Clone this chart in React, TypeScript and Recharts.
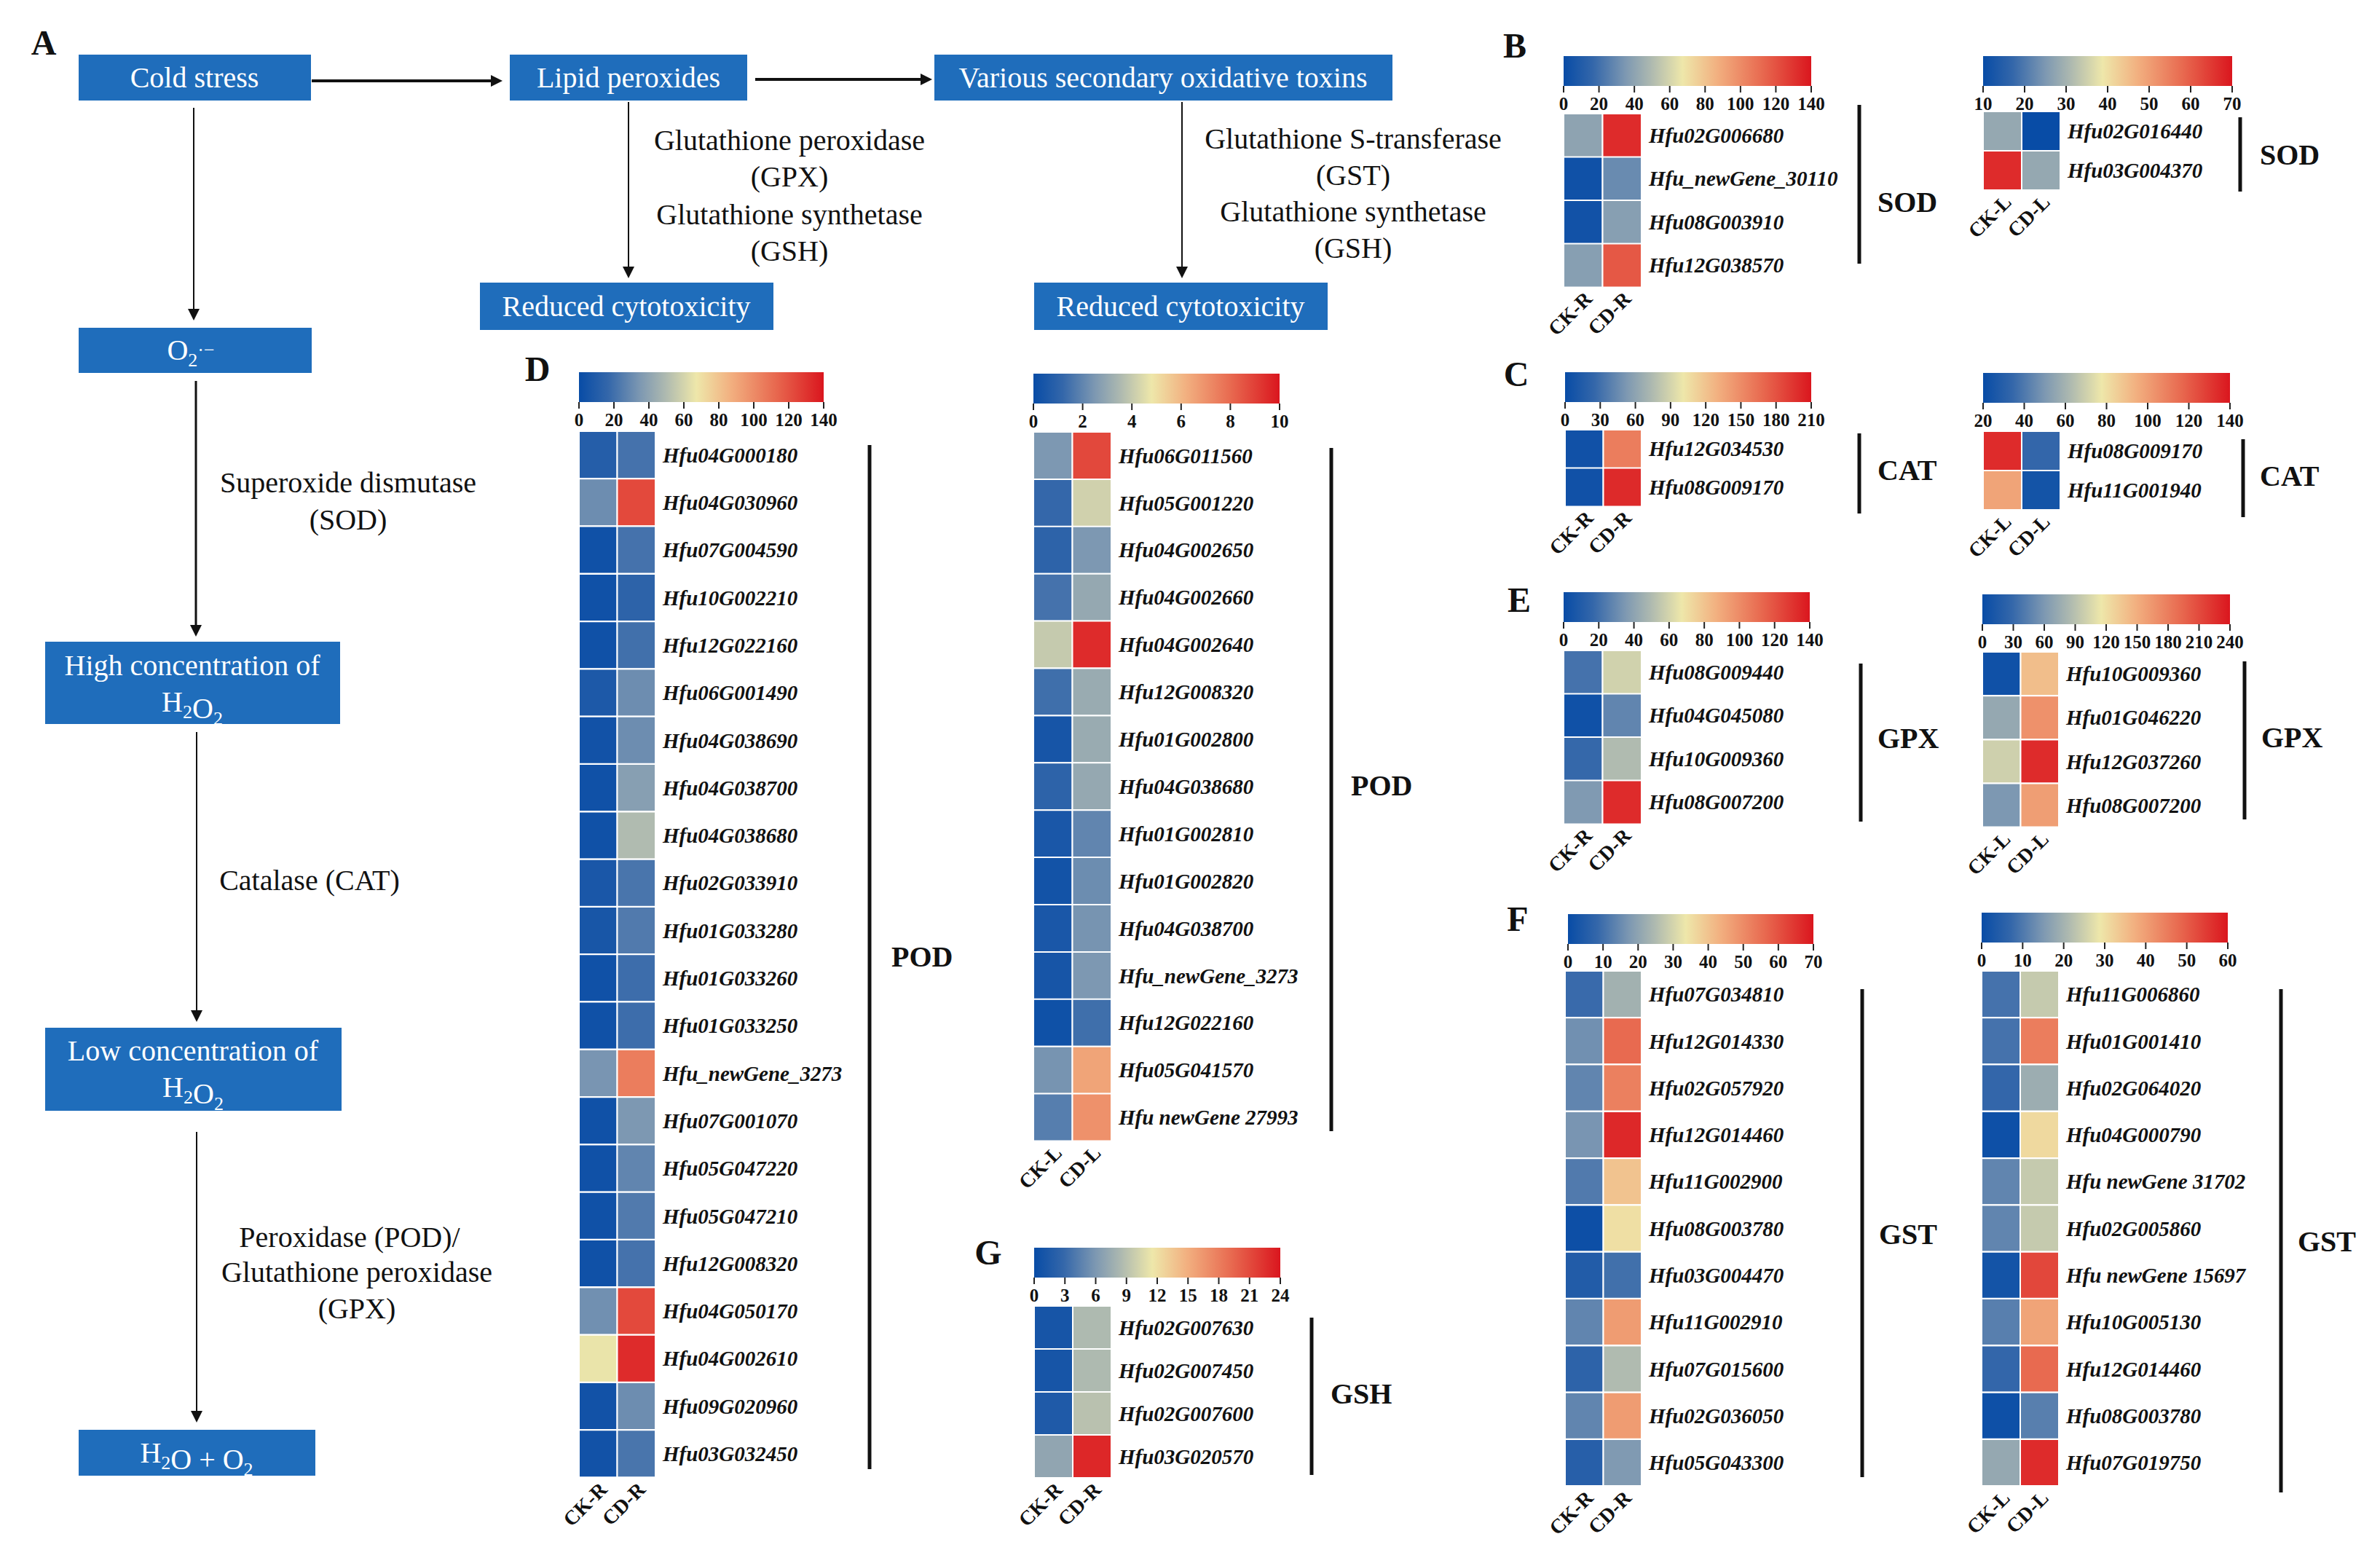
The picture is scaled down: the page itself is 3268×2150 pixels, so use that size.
import React from "react"
import { BarChart, Bar, XAxis, YAxis, Cell } from "recharts"

const SERIF = '"Liberation Serif", "Times New Roman", serif'
const BOX = "#1f6dbb"

const samplesRoot = ["CK-R", "CD-R"]
const samplesLeaf = ["CK-L", "CD-L"]

// B  SOD
const sodRootGenes = ["Hfu02G006680", "Hfu_newGene_30110", "Hfu08G003910", "Hfu12G038570"]
const sodRootCK = [40, 3, 4, 38]
const sodRootCD = [133, 30, 38, 118]
const sodRootTicks = [0, 20, 40, 60, 80, 100, 120, 140]
const sodLeafGenes = ["Hfu02G016440", "Hfu03G004370"]
const sodLeafCK = [28, 67]
const sodLeafCD = [10, 28]
const sodLeafTicks = [10, 20, 30, 40, 50, 60, 70]

// C  CAT
const catRootGenes = ["Hfu12G034530", "Hfu08G009170"]
const catRootCK = [5, 5]
const catRootCD = [158, 200]
const catRootTicks = [0, 30, 60, 90, 120, 150, 180, 210]
const catLeafGenes = ["Hfu08G009170", "Hfu11G001940"]
const catLeafCK = [134, 98]
const catLeafCD = [34, 24]
const catLeafTicks = [20, 40, 60, 80, 100, 120, 140]

// E  GPX
const gpxRootGenes = ["Hfu08G009440", "Hfu04G045080", "Hfu10G009360", "Hfu08G007200"]
const gpxRootCK = [21, 3, 17, 36]
const gpxRootCD = [59, 28, 50, 133]
const gpxRootTicks = [0, 20, 40, 60, 80, 100, 120, 140]
const gpxLeafGenes = ["Hfu10G009360", "Hfu01G046220", "Hfu12G037260", "Hfu08G007200"]
const gpxLeafCK = [5, 72, 100, 60]
const gpxLeafCD = [140, 168, 228, 160]
const gpxLeafTicks = [0, 30, 60, 90, 120, 150, 180, 210, 240]

// F  GST
const gstRootGenes = [
  "Hfu07G034810", "Hfu12G014330", "Hfu02G057920", "Hfu12G014460", "Hfu11G002900", "Hfu08G003780",
  "Hfu03G004470", "Hfu11G002910", "Hfu07G015600", "Hfu02G036050", "Hfu05G043300",
]
const gstRootCK = [9, 16, 14, 17, 12, 1, 5, 14, 7, 14, 6]
const gstRootCD = [23, 56, 52, 67, 40, 35, 10, 47, 25, 47, 18]
const gstRootTicks = [0, 10, 20, 30, 40, 50, 60, 70]
const gstLeafGenes = [
  "Hfu11G006860", "Hfu01G001410", "Hfu02G064020", "Hfu04G000790", "Hfu newGene 31702", "Hfu02G005860",
  "Hfu newGene 15697", "Hfu10G005130", "Hfu12G014460", "Hfu08G003780", "Hfu07G019750",
]
const gstLeafCK = [9, 9, 7, 1, 12, 12, 2, 11, 7, 1, 18]
const gstLeafCD = [24, 45, 19, 31, 24, 24, 53, 39, 48, 11, 57]
const gstLeafTicks = [0, 10, 20, 30, 40, 50, 60]

// D  POD
const podRootGenes = [
  "Hfu04G000180", "Hfu04G030960", "Hfu07G004590", "Hfu10G002210", "Hfu12G022160", "Hfu06G001490",
  "Hfu04G038690", "Hfu04G038700", "Hfu04G038680", "Hfu02G033910", "Hfu01G033280", "Hfu01G033260",
  "Hfu01G033250", "Hfu_newGene_3273", "Hfu07G001070", "Hfu05G047220", "Hfu05G047210", "Hfu12G008320",
  "Hfu04G050170", "Hfu04G002610", "Hfu09G020960", "Hfu03G032450",
]
const podRootCK = [11, 31, 3, 3, 3, 8, 4, 3, 3, 7, 6, 3, 3, 34, 3, 3, 3, 3, 32, 66, 4, 4]
const podRootCD = [21, 123, 21, 14, 20, 31, 31, 38, 50, 22, 24, 19, 19, 105, 35, 28, 24, 21, 123, 133, 31, 22]
const podRootTicks = [0, 20, 40, 60, 80, 100, 120, 140]
const podLeafGenes = [
  "Hfu06G011560", "Hfu05G001220", "Hfu04G002650", "Hfu04G002660", "Hfu04G002640", "Hfu12G008320",
  "Hfu01G002800", "Hfu04G038680", "Hfu01G002810", "Hfu01G002820", "Hfu04G038700", "Hfu_newGene_3273",
  "Hfu12G022160", "Hfu05G041570", "Hfu newGene 27993",
]
const podLeafCK = [2.5, 1.2, 1.0, 1.5, 4.0, 1.4, 0.4, 1.0, 0.5, 0.3, 0.5, 0.4, 0.2, 2.4, 1.8]
const podLeafCD = [8.8, 4.2, 2.5, 3.0, 9.5, 3.1, 3.1, 3.0, 2.0, 2.2, 2.4, 2.5, 1.4, 6.5, 7.0]
const podLeafTicks = [0, 2, 4, 6, 8, 10]

// G  GSH
const gshRootGenes = ["Hfu02G007630", "Hfu02G007450", "Hfu02G007600", "Hfu03G020570"]
const gshRootCK = [1, 1, 1.5, 7]
const gshRootCD = [8.5, 8.5, 9, 23]
const gshRootTicks = [0, 3, 6, 9, 12, 15, 18, 21, 24]

// blue - grey - pale yellow - red palette of the colour keys
const colorStops: [number, number[]][] = [
  [0, [8, 76, 166]],
  [0.12, [52, 103, 170]],
  [0.25, [125, 152, 178]],
  [0.35, [172, 184, 176]],
  [0.48, [238, 231, 170]],
  [0.62, [242, 176, 128]],
  [0.8, [232, 106, 80]],
  [1, [218, 22, 30]],
]

const rgb = (c: number[]) => `rgb(${c.map((v) => Math.round(v)).join(",")})`

function heatColor(v: number, min: number, max: number) {
  const t = Math.max(0, Math.min(1, (v - min) / (max - min)))
  for (let i = 1; i < colorStops.length; i++) {
    const [t1, c1] = colorStops[i]
    const [t0, c0] = colorStops[i - 1]
    if (t <= t1) {
      const k = (t - t0) / (t1 - t0)
      return rgb(c0.map((a, j) => a + (c1[j] - a) * k))
    }
  }
  return rgb(colorStops[colorStops.length - 1][1])
}

type ColorBarProps = {
  id: string
  left: number
  top: number
  width: number
  height: number
  ticks: number[]
}

const ColorBar: React.FC<ColorBarProps> = ({ id, left, top, width, height, ticks }) => {
  const min = ticks[0]
  const max = ticks[ticks.length - 1]
  const data = [{ name: "key", span: [min, max] }]
  const pad = 30
  return (
    <div style={{ position: "absolute", left: left - pad, top }}>
      <BarChart
        layout="vertical"
        width={width + 2 * pad}
        height={height + 46}
        data={data}
        margin={{ top: 0, right: pad, bottom: 0, left: pad }}
        barCategoryGap={0}
      >
        <defs>
          <linearGradient id={id} x1="0" y1="0" x2="1" y2="0">
            {colorStops.map(([t, c]) => (
              <stop key={t} offset={t} stopColor={rgb(c)} />
            ))}
          </linearGradient>
        </defs>
        <XAxis
          type="number"
          domain={[min, max]}
          ticks={ticks}
          interval={0}
          axisLine={false}
          tickSize={9}
          tickLine={{ stroke: "#222", strokeWidth: 2 }}
          tickMargin={6}
          height={46}
          tick={{ fontFamily: SERIF, fontWeight: "bold", fontSize: 25, fill: "#111" }}
        />
        <YAxis type="category" dataKey="name" hide width={0} />
        <Bar dataKey="span" fill={`url(#${id})`} isAnimationActive={false} />
      </BarChart>
    </div>
  )
}

type HeatmapProps = {
  left: number
  top: number
  cellW: number
  rowH: number
  genes: string[]
  ck: number[]
  cd: number[]
  samples: string[]
  min: number
  max: number
}

const geneTick = (props: any) => (
  <text
    x={props.x}
    y={props.y}
    dy="0.35em"
    textAnchor="start"
    fontFamily={SERIF}
    fontStyle="italic"
    fontWeight="bold"
    fontSize={29}
    fill="#111"
  >
    {props.payload.value}
  </text>
)

const sampleTick = (samples: string[]) => (props: any) => {
  const x = props.x + 14
  const y = props.y + 18
  return (
    <text
      x={x}
      y={y}
      transform={`rotate(-45, ${x}, ${y})`}
      textAnchor="end"
      fontFamily={SERIF}
      fontWeight="bold"
      fontSize={28}
      fill="#111"
    >
      {samples[Math.floor(props.payload.value)]}
    </text>
  )
}

const Heatmap: React.FC<HeatmapProps> = (p) => {
  const rows = p.genes.map((gene, i) => ({ gene, ck: 1, cd: 1, ckValue: p.ck[i], cdValue: p.cd[i] }))
  const padL = 40
  const labelW = 320
  return (
    <div style={{ position: "absolute", left: p.left - padL, top: p.top }}>
      <BarChart
        layout="vertical"
        width={padL + 2 * p.cellW + labelW}
        height={p.genes.length * p.rowH + 90}
        data={rows}
        margin={{ top: 0, right: 0, bottom: 0, left: padL }}
        barCategoryGap={0}
        barGap={0}
      >
        <XAxis
          type="number"
          domain={[0, 2]}
          ticks={[0.5, 1.5]}
          interval={0}
          axisLine={false}
          tickLine={false}
          tickSize={0}
          tickMargin={0}
          height={90}
          tick={sampleTick(p.samples)}
        />
        <YAxis
          type="category"
          dataKey="gene"
          orientation="right"
          width={labelW}
          interval={0}
          axisLine={false}
          tickLine={false}
          tickSize={0}
          tickMargin={10}
          tick={geneTick}
        />
        <Bar dataKey="ck" stackId="hm" isAnimationActive={false} stroke="#fff" strokeWidth={2}>
          {rows.map((r, i) => (
            <Cell key={i} fill={heatColor(r.ckValue, p.min, p.max)} />
          ))}
        </Bar>
        <Bar dataKey="cd" stackId="hm" isAnimationActive={false} stroke="#fff" strokeWidth={2}>
          {rows.map((r, i) => (
            <Cell key={i} fill={heatColor(r.cdValue, p.min, p.max)} />
          ))}
        </Bar>
      </BarChart>
    </div>
  )
}

type PanelProps = {
  id: string
  gridX: number
  gridY: number
  cellW: number
  rowH: number
  barX: number
  barY: number
  barW: number
  genes: string[]
  ck: number[]
  cd: number[]
  ticks: number[]
  samples: string[]
}

const Panel: React.FC<PanelProps> = (p) => (
  <>
    <ColorBar id={p.id} left={p.barX} top={p.barY} width={p.barW} height={41} ticks={p.ticks} />
    <Heatmap
      left={p.gridX}
      top={p.gridY}
      cellW={p.cellW}
      rowH={p.rowH}
      genes={p.genes}
      ck={p.ck}
      cd={p.cd}
      samples={p.samples}
      min={p.ticks[0]}
      max={p.ticks[p.ticks.length - 1]}
    />
  </>
)

const Arrow = ({ x1, y1, x2, y2, w = 2 }: { x1: number; y1: number; x2: number; y2: number; w?: number }) => {
  const horiz = y1 === y2
  const len = 16
  const half = 8
  const head = horiz
    ? `${x2},${y2} ${x2 - len},${y2 - half} ${x2 - len},${y2 + half}`
    : `${x2},${y2} ${x2 - half},${y2 - len} ${x2 + half},${y2 - len}`
  return (
    <g>
      <line
        x1={x1}
        y1={y1}
        x2={horiz ? x2 - len + 2 : x2}
        y2={horiz ? y2 : y2 - len + 2}
        stroke="#111"
        strokeWidth={w}
      />
      <polygon points={head} fill="#111" />
    </g>
  )
}

const Box = ({ x, y, w, h }: { x: number; y: number; w: number; h: number }) => (
  <rect x={x} y={y} width={w} height={h} fill={BOX} />
)

const boxText = { fontFamily: SERIF, fontSize: 40, fill: "#fff", textAnchor: "middle" as const }
const plainText = { fontFamily: SERIF, fontSize: 40, fill: "#111", textAnchor: "middle" as const }
const letter = { fontFamily: SERIF, fontSize: 48, fontWeight: "bold" as const, fill: "#111", textAnchor: "middle" as const }
const group = { fontFamily: SERIF, fontSize: 40, fontWeight: "bold" as const, fill: "#111" }

const Sub = ({ children }: { children: React.ReactNode }) => (
  <>
    <tspan fontSize={26} dy={9}>
      {children}
    </tspan>
    <tspan dy={-9}>{""}</tspan>
  </>
)

const Overlay = () => (
  <svg width={3268} height={2150} style={{ position: "absolute", left: 0, top: 0 }}>
    {/* panel letters */}
    <text x={60} y={75} {...letter}>A</text>
    <text x={2080} y={79} {...letter}>B</text>
    <text x={2082} y={530} {...letter}>C</text>
    <text x={738} y={523} {...letter}>D</text>
    <text x={2086} y={840} {...letter}>E</text>
    <text x={2084} y={1278} {...letter}>F</text>
    <text x={1357} y={1736} {...letter}>G</text>

    {/* flow chart */}
    <Box x={108} y={75} w={319} h={63} />
    <Box x={700} y={75} w={326} h={63} />
    <Box x={1283} y={75} w={629} h={63} />
    <Box x={659} y={388} w={403} h={65} />
    <Box x={1420} y={388} w={403} h={65} />
    <Box x={108} y={450} w={320} h={62} />
    <Box x={62} y={881} w={405} h={113} />
    <Box x={62} y={1411} w={407} h={114} />
    <Box x={108} y={1963} w={325} h={63} />

    <text x={267} y={120} {...boxText}>Cold stress</text>
    <text x={863} y={120} {...boxText}>Lipid peroxides</text>
    <text x={1597} y={120} {...boxText}>Various secondary oxidative toxins</text>
    <text x={860} y={434} {...boxText}>Reduced cytotoxicity</text>
    <text x={1621} y={434} {...boxText}>Reduced cytotoxicity</text>
    <text x={262} y={494} {...boxText}>
      O<Sub>2</Sub>
      <tspan fontSize={26} dy={-14}>·−</tspan>
    </text>
    <text x={264} y={927} {...boxText}>High concentration of</text>
    <text x={264} y={977} {...boxText}>
      H<Sub>2</Sub>O<Sub>2</Sub>
    </text>
    <text x={265} y={1456} {...boxText}>Low concentration of</text>
    <text x={265} y={1506} {...boxText}>
      H<Sub>2</Sub>O<Sub>2</Sub>
    </text>
    <text x={270} y={2008} {...boxText}>
      H<Sub>2</Sub>O + O<Sub>2</Sub>
    </text>

    <Arrow x1={428} y1={111} x2={690} y2={111} w={4} />
    <Arrow x1={1037} y1={109} x2={1280} y2={109} w={4} />
    <Arrow x1={266} y1={148} x2={266} y2={440} w={2} />
    <Arrow x1={863} y1={140} x2={863} y2={382} w={2} />
    <Arrow x1={1623} y1={140} x2={1623} y2={382} w={2} />
    <Arrow x1={269} y1={523} x2={269} y2={874} w={3} />
    <Arrow x1={270} y1={1005} x2={270} y2={1403} w={2} />
    <Arrow x1={270} y1={1554} x2={270} y2={1953} w={2} />

    <text x={1084} y={206} {...plainText}>Glutathione peroxidase</text>
    <text x={1084} y={256} {...plainText}>(GPX)</text>
    <text x={1084} y={308} {...plainText}>Glutathione synthetase</text>
    <text x={1084} y={358} {...plainText}>(GSH)</text>
    <text x={1858} y={204} {...plainText}>Glutathione S-transferase</text>
    <text x={1858} y={254} {...plainText}>(GST)</text>
    <text x={1858} y={304} {...plainText}>Glutathione synthetase</text>
    <text x={1858} y={354} {...plainText}>(GSH)</text>
    <text x={478} y={676} {...plainText}>Superoxide dismutase</text>
    <text x={478} y={727} {...plainText}>(SOD)</text>
    <text x={425} y={1222} {...plainText}>Catalase (CAT)</text>
    <text x={480} y={1712} {...plainText}>Peroxidase (POD)/</text>
    <text x={490} y={1760} {...plainText}>Glutathione peroxidase</text>
    <text x={490} y={1810} {...plainText}>(GPX)</text>

    {/* brackets and enzyme groups */}
    <line x1={2553} y1={144} x2={2553} y2={362} stroke="#111" strokeWidth={5} />
    <text x={2578} y={291} {...group}>SOD</text>
    <line x1={3076} y1={161} x2={3076} y2={263} stroke="#111" strokeWidth={5} />
    <text x={3103} y={226} {...group}>SOD</text>
    <line x1={2553} y1={595} x2={2553} y2={705} stroke="#111" strokeWidth={5} />
    <text x={2578} y={659} {...group}>CAT</text>
    <line x1={3080} y1={603} x2={3080} y2={710} stroke="#111" strokeWidth={5} />
    <text x={3103} y={667} {...group}>CAT</text>
    <line x1={2555} y1={911} x2={2555} y2={1128} stroke="#111" strokeWidth={5} />
    <text x={2578} y={1027} {...group}>GPX</text>
    <line x1={3082} y1={908} x2={3082} y2={1125} stroke="#111" strokeWidth={5} />
    <text x={3105} y={1026} {...group}>GPX</text>
    <line x1={2557} y1={1358} x2={2557} y2={2028} stroke="#111" strokeWidth={5} />
    <text x={2580} y={1708} {...group}>GST</text>
    <line x1={3132} y1={1358} x2={3132} y2={2049} stroke="#111" strokeWidth={5} />
    <text x={3155} y={1718} {...group}>GST</text>
    <line x1={1194} y1={611} x2={1194} y2={2017} stroke="#111" strokeWidth={5} />
    <text x={1224} y={1327} {...group}>POD</text>
    <line x1={1828} y1={615} x2={1828} y2={1553} stroke="#111" strokeWidth={5} />
    <text x={1855} y={1092} {...group}>POD</text>
    <line x1={1801} y1={1809} x2={1801} y2={2025} stroke="#111" strokeWidth={5} />
    <text x={1827} y={1927} {...group}>GSH</text>
  </svg>
)

const App: React.FC = () => (
  <div style={{ position: "absolute", left: 0, top: 0, width: 3268, height: 2150, background: "#fff", overflow: "hidden" }}>
    <Overlay />
    <Panel id="g-sod-r" gridX={2147} gridY={156} cellW={53.5} rowH={59.5} barX={2147} barY={77} barW={340}
      genes={sodRootGenes} ck={sodRootCK} cd={sodRootCD} ticks={sodRootTicks} samples={samplesRoot} />
    <Panel id="g-sod-l" gridX={2723} gridY={153} cellW={53} rowH={54} barX={2723} barY={77} barW={342}
      genes={sodLeafGenes} ck={sodLeafCK} cd={sodLeafCD} ticks={sodLeafTicks} samples={samplesLeaf} />
    <Panel id="g-cat-r" gridX={2149} gridY={590} cellW={52.5} rowH={52.5} barX={2149} barY={511} barW={338}
      genes={catRootGenes} ck={catRootCK} cd={catRootCD} ticks={catRootTicks} samples={samplesRoot} />
    <Panel id="g-cat-l" gridX={2723} gridY={592} cellW={53} rowH={54} barX={2723} barY={512} barW={339}
      genes={catLeafGenes} ck={catLeafCK} cd={catLeafCD} ticks={catLeafTicks} samples={samplesLeaf} />
    <Panel id="g-gpx-r" gridX={2147} gridY={893} cellW={53.5} rowH={59.5} barX={2147} barY={813} barW={338}
      genes={gpxRootGenes} ck={gpxRootCK} cd={gpxRootCD} ticks={gpxRootTicks} samples={samplesRoot} />
    <Panel id="g-gpx-l" gridX={2722} gridY={895} cellW={52.5} rowH={60.2} barX={2722} barY={816} barW={340}
      genes={gpxLeafGenes} ck={gpxLeafCK} cd={gpxLeafCD} ticks={gpxLeafTicks} samples={samplesLeaf} />
    <Panel id="g-gst-r" gridX={2149} gridY={1333} cellW={52.5} rowH={64.3} barX={2153} barY={1255} barW={337}
      genes={gstRootGenes} ck={gstRootCK} cd={gstRootCD} ticks={gstRootTicks} samples={samplesRoot} />
    <Panel id="g-gst-l" gridX={2721} gridY={1333} cellW={53} rowH={64.3} barX={2721} barY={1253} barW={338}
      genes={gstLeafGenes} ck={gstLeafCK} cd={gstLeafCD} ticks={gstLeafTicks} samples={samplesLeaf} />
    <Panel id="g-pod-r" gridX={795} gridY={592} cellW={52.5} rowH={65.3} barX={795} barY={511} barW={336}
      genes={podRootGenes} ck={podRootCK} cd={podRootCD} ticks={podRootTicks} samples={samplesRoot} />
    <Panel id="g-pod-l" gridX={1419} gridY={593} cellW={53.5} rowH={64.9} barX={1419} barY={513} barW={338}
      genes={podLeafGenes} ck={podLeafCK} cd={podLeafCD} ticks={podLeafTicks} samples={samplesLeaf} />
    <Panel id="g-gsh-r" gridX={1420} gridY={1793} cellW={53} rowH={59} barX={1420} barY={1713} barW={338}
      genes={gshRootGenes} ck={gshRootCK} cd={gshRootCD} ticks={gshRootTicks} samples={samplesRoot} />
  </div>
)

export default App
